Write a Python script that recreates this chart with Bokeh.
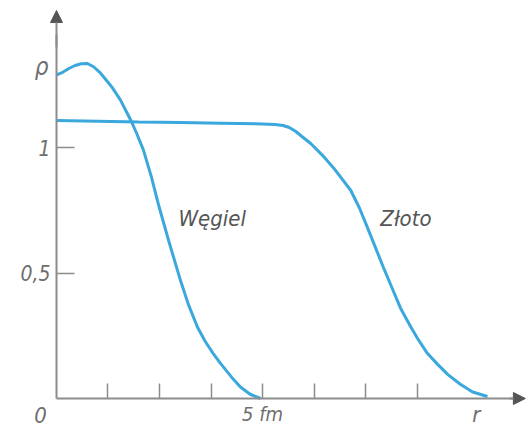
from bokeh.plotting import figure
from bokeh.models import Range1d, FixedTicker, Label, Arrow, NormalHead
from bokeh.embed import file_html
from bokeh.resources import INLINE

# r in fm, rho in relative units
carbon_r = [0.00, 0.15, 0.30, 0.45, 0.60, 0.75, 0.90, 1.05, 1.20, 1.35, 1.55, 1.80,
            1.95, 2.11, 2.30, 2.48, 2.72, 3.01, 3.20, 3.42, 3.60, 3.80, 3.98, 4.25,
            4.47, 4.70, 4.95]
carbon_rho = [1.29, 1.30, 1.315, 1.327, 1.334, 1.335, 1.322, 1.30, 1.27, 1.24, 1.19, 1.11,
              1.055, 0.99, 0.885, 0.77, 0.63, 0.47, 0.375, 0.285, 0.23, 0.18, 0.14, 0.085,
              0.045, 0.017, 0.0]

gold_r = [0.0, 1.0, 2.0, 3.0, 4.0, 5.0, 5.3, 5.5, 5.65, 5.8, 5.95, 6.17, 6.45, 6.72,
          7.14, 7.35, 7.55, 7.94, 8.35, 8.60, 8.76, 9.00, 9.25, 9.50, 9.81, 10.10, 10.46]
gold_rho = [1.108, 1.105, 1.102, 1.100, 1.097, 1.094, 1.092, 1.088, 1.08, 1.065, 1.045,
            1.016, 0.97, 0.92, 0.83, 0.76, 0.68, 0.52, 0.36, 0.285, 0.24, 0.18, 0.136,
            0.095, 0.056, 0.026, 0.008]

x_ticks = [1.25, 2.5, 3.75, 5, 6.25, 7.5, 8.75]
x_tick_labels = {1.25: "", 2.5: "", 3.75: "", 5: "5 fm", 6.25: "", 7.5: "", 8.75: ""}
y_ticks = [0.5, 1]
y_tick_labels = {0.5: "0,5", 1: "1"}

curve_labels = ["Węgiel", "Złoto"]
curve_label_r = [2.96, 7.86]
curve_label_rho = [0.717, 0.717]

FONT = "Liberation Sans Narrow, DejaVu Sans Condensed, sans-serif"
BLUE = "#3aa7dd"
GREY = "#8c8c8c"
TEXT = "#6e6e6e"

p = figure(width=529, height=429, output_backend="svg", toolbar_location=None,
           x_range=Range1d(-1.359, 11.48), y_range=Range1d(-0.1235, 1.586),
           min_border_left=0, min_border_right=0, min_border_top=0, min_border_bottom=0)
p.outline_line_color = None
p.grid.visible = False
p.background_fill_color = "white"
p.border_fill_color = "white"

p.line(carbon_r, carbon_rho, line_color=BLUE, line_width=3)
p.line(gold_r, gold_rho, line_color=BLUE, line_width=3)

for ax in (p.xaxis[0], p.yaxis[0]):
    ax.fixed_location = 0
    ax.axis_line_color = GREY
    ax.axis_line_width = 2
    ax.major_tick_line_color = GREY
    ax.major_tick_line_width = 1.5
    ax.major_tick_out = 0
    ax.minor_tick_line_color = None
    ax.major_label_text_font = FONT
    ax.major_label_text_font_style = "italic"
    ax.major_label_text_font_size = "21px"
    ax.major_label_text_color = TEXT

p.xaxis.ticker = FixedTicker(ticks=x_ticks)
p.xaxis.major_label_overrides = x_tick_labels
p.xaxis.major_tick_in = 15
p.xaxis.major_label_standoff = 3
p.xaxis.major_label_text_font_size = "20px"
p.xaxis.bounds = (0, 11.1)

p.yaxis.ticker = FixedTicker(ticks=y_ticks)
p.yaxis.major_label_overrides = y_tick_labels
p.yaxis.major_tick_in = 18
p.yaxis.major_label_standoff = 6
p.yaxis.bounds = (0, 1.45)

for t, xr, yr in zip(curve_labels, curve_label_r, curve_label_rho):
    p.add_layout(Label(x=xr, y=yr, text=t, text_font=FONT, text_font_style="italic",
                       text_font_size="22px", text_color="#555555",
                       text_align="left", text_baseline="middle"))

p.add_layout(Label(x=-0.39, y=-0.064, text="0", text_font=FONT,
                   text_font_style="italic", text_font_size="22px", text_color=TEXT,
                   text_align="center", text_baseline="middle"))
p.add_layout(Label(x=10.19, y=-0.064, text="r", text_font=FONT,
                   text_font_style="italic", text_font_size="22px", text_color=TEXT,
                   text_align="center", text_baseline="middle"))
p.add_layout(Label(x=-0.36, y=1.323, text="ρ", text_font=FONT,
                   text_font_style="italic", text_font_size="24px", text_color=TEXT,
                   text_align="center", text_baseline="middle"))

p.add_layout(Arrow(x_start=0, y_start=1.40, x_end=0, y_end=1.546,
                   line_color=GREY, line_width=2,
                   end=NormalHead(size=12, fill_color="#555555", line_color="#555555")))
p.add_layout(Arrow(x_start=11.0, y_start=0, x_end=11.38, y_end=0,
                   line_color=GREY, line_width=2,
                   end=NormalHead(size=12, fill_color="#555555", line_color="#555555")))

open("out.html", "w").write(file_html(p, INLINE))
